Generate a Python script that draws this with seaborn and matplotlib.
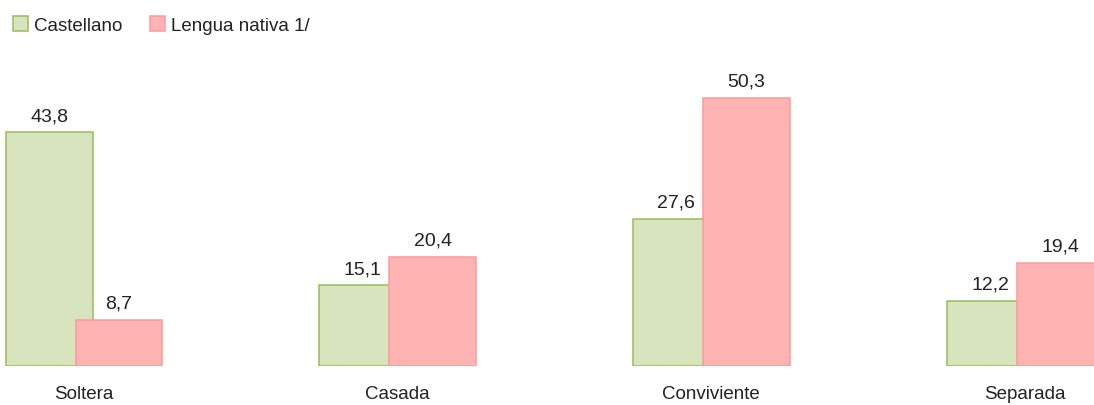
import numpy as np
import matplotlib
matplotlib.use("Agg")
import matplotlib.pyplot as plt
from matplotlib.patches import Patch
import seaborn as sns

categories = ["Soltera", "Casada", "Conviviente", "Separada"]
castellano = [43.8, 15.1, 27.6, 12.2]
lengua_nativa = [8.7, 20.4, 50.3, 19.4]
series_names = ["Castellano", "Lengua nativa 1/"]

green_fill, green_edge = "#D7E4BD", "#9BBB59"
pink_fill, pink_edge = "#FFB3B3", "#FF9999"

sns.set_theme(style="white")
plt.rcParams["font.family"] = ["Liberation Sans", "DejaVu Sans"]

fig = plt.figure(figsize=(10.94, 4.06), dpi=100)
ax = fig.add_axes([0.0, 39 / 406, 1.0, 320 / 406])

pos = np.arange(len(categories))
shift = 0.1115
bar_w = 0.277

sns.barplot(x=pos - shift, y=castellano, native_scale=True, orient="x",
            width=bar_w, color=green_fill, saturation=1,
            edgecolor=green_edge, linewidth=1.1, ax=ax)
sns.barplot(x=pos + shift, y=lengua_nativa, native_scale=True, orient="x",
            width=bar_w, color=pink_fill, saturation=1,
            edgecolor=pink_edge, linewidth=1.1, ax=ax)

for cont, vals in zip(ax.containers, [castellano, lengua_nativa]):
    ax.bar_label(cont, labels=[f"{v:.1f}".replace(".", ",") for v in vals],
                 padding=6, fontsize=14, color="#222222")

ax.set_xlim(-0.268, 3.22)
ax.set_ylim(0, 60)
ax.set_xticks(pos)
ax.set_xticklabels(categories, fontsize=13.5, color="#222222")
ax.tick_params(axis="x", length=0, pad=14)
ax.set_yticks([])
for s in ax.spines.values():
    s.set_visible(False)

handles = [Patch(facecolor=green_fill, edgecolor=green_edge, linewidth=1.1),
           Patch(facecolor=pink_fill, edgecolor=pink_edge, linewidth=1.1)]
fig.legend(handles, series_names, loc="upper left", bbox_to_anchor=(0.0, 0.99),
           ncol=2, frameon=False, fontsize=13.5, handlelength=0.8, handleheight=0.8,
           handletextpad=0.3, columnspacing=1.5, borderaxespad=0.3,
           labelcolor="#222222")

fig.savefig("out.png", dpi=100)
